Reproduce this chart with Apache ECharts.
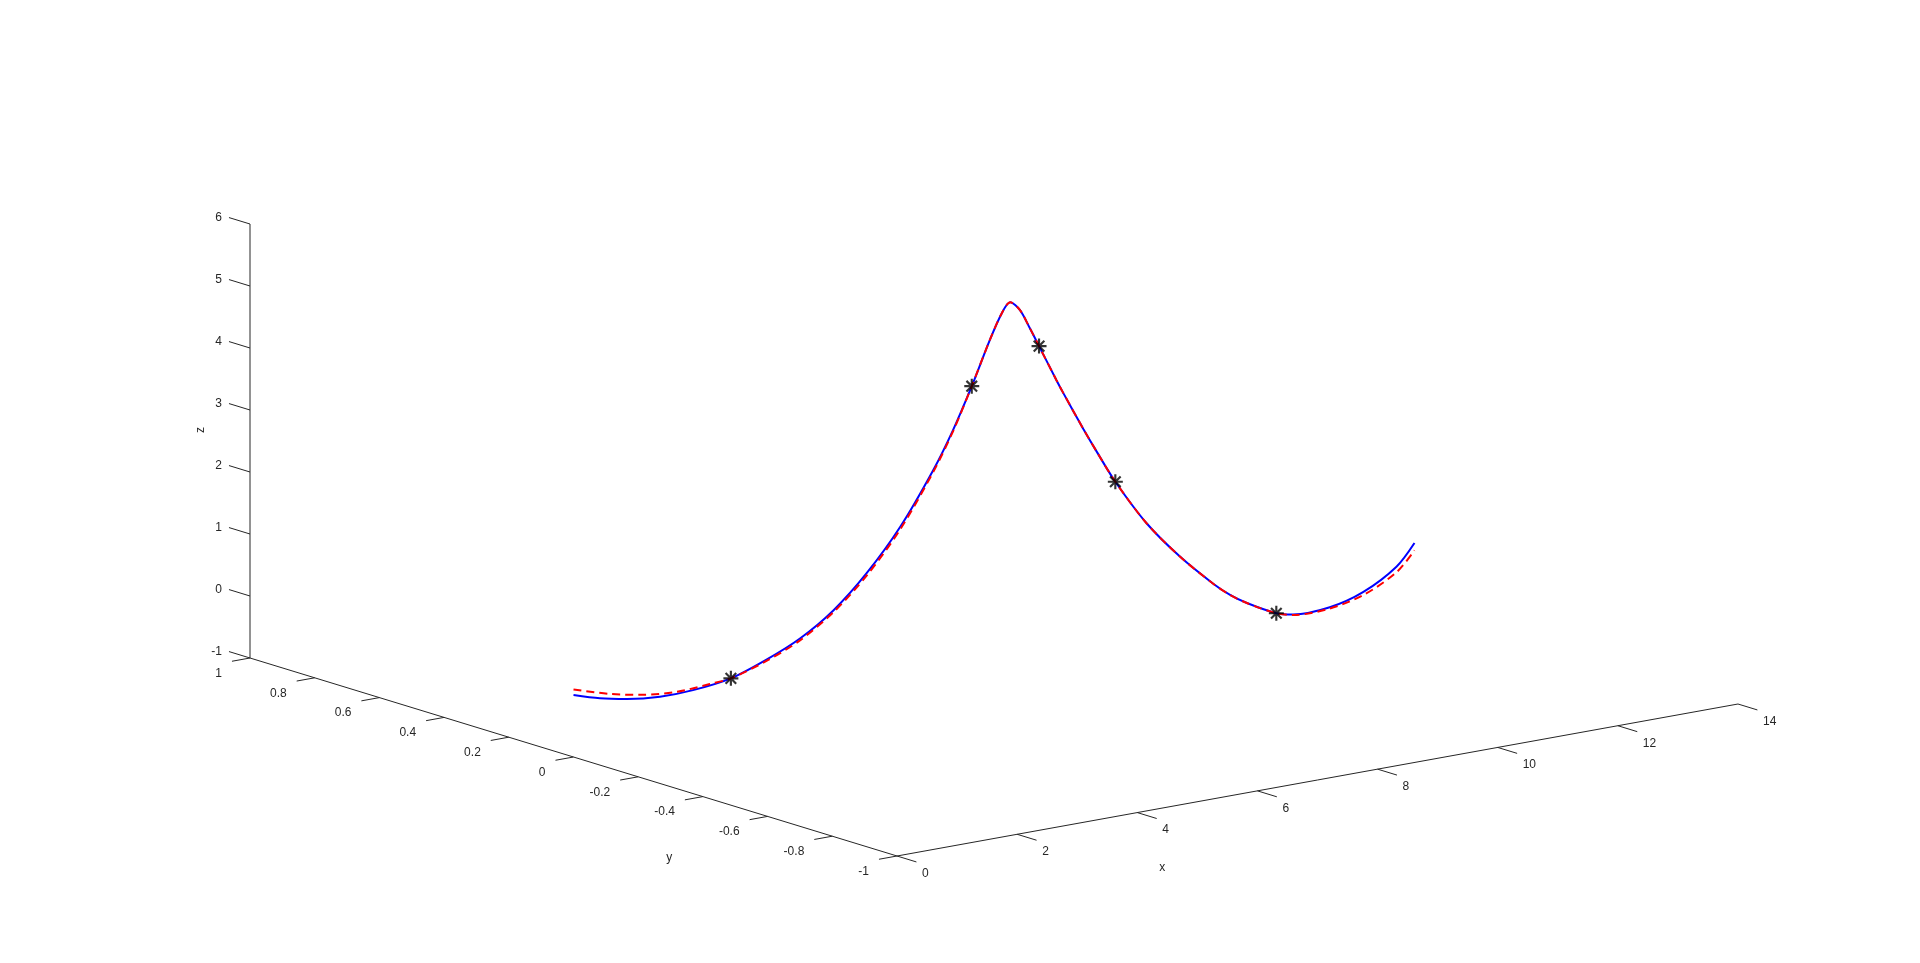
<!DOCTYPE html>
<html>
<head>
<meta charset="utf-8">
<script src="https://cdn.jsdelivr.net/npm/echarts@6/dist/echarts.min.js"></script>
<style>
html,body{margin:0;padding:0;background:#fff;overflow:hidden;}
#chart{width:1920px;height:963px;}
</style>
</head>
<body>
<div id="chart"></div>
<script>
// ---------- data ----------
const xTicks = [0, 2, 4, 6, 8, 10, 12, 14];
const xTickLabels = ['0', '2', '4', '6', '8', '10', '12', '14'];
const yTicks = [-1, -0.8, -0.6, -0.4, -0.2, 0, 0.2, 0.4, 0.6, 0.8, 1];
const yTickLabels = ['-1', '-0.8', '-0.6', '-0.4', '-0.2', '0', '0.2', '0.4', '0.6', '0.8', '1'];
const zTicks = [-1, 0, 1, 2, 3, 4, 5, 6];
const zTickLabels = ['-1', '0', '1', '2', '3', '4', '5', '6'];

// true curve (blue solid)
const curveX = [0, 0.44, 0.89, 1.44, 1.99, 2.62, 3.22, 3.77, 4.33, 4.88, 5.44, 5.99, 6.32, 6.63, 6.93, 7.13, 7.27, 7.43, 7.6, 7.75, 8.04, 8.15, 8.49, 8.71, 9.02, 9.54, 10.10, 10.65, 10.93, 11.21, 11.70, 11.98, 12.59, 13.15, 13.70, 14.0];
const curveY = [0, 0, 0, 0, 0, 0, 0, 0, 0, 0, 0, 0, 0, 0, 0, 0, 0, 0, 0, 0, 0, 0, 0, 0, 0, 0, 0, 0, 0, 0, 0, 0, 0, 0, 0, 0];
const curveZ = [0, -0.13, -0.22, -0.28, -0.27, -0.19, 0.01, 0.25, 0.61, 1.11, 1.76, 2.58, 3.17, 3.82, 4.51, 4.91, 5.06, 4.91, 4.58, 4.27, 3.67, 3.45, 2.80, 2.40, 1.86, 1.10, 0.46, -0.07, -0.30, -0.48, -0.73, -0.80, -0.79, -0.64, -0.33, 0.0];

// interpolated curve (red dashed)
const fitX = [0, 0.61, 1.16, 1.72, 2.27, 2.62, 3.22, 3.77, 4.33, 4.88, 5.44, 5.99, 6.32, 6.63, 6.93, 7.13, 7.27, 7.43, 7.6, 7.75, 8.04, 8.15, 8.49, 8.71, 9.02, 9.54, 10.10, 10.65, 10.93, 11.21, 11.70, 12.0, 12.59, 13.15, 13.70, 14.0];
const fitY = [0, 0, 0, 0, 0, 0, 0, 0, 0, 0, 0, 0, 0, 0, 0, 0, 0, 0, 0, 0, 0, 0, 0, 0, 0, 0, 0, 0, 0, 0, 0, 0, 0, 0, 0, 0];
const fitZ = [0.09, -0.09, -0.20, -0.25, -0.22, -0.19, -0.01, 0.22, 0.58, 1.07, 1.72, 2.55, 3.15, 3.82, 4.51, 4.91, 5.06, 4.91, 4.58, 4.27, 3.67, 3.45, 2.80, 2.40, 1.86, 1.10, 0.46, -0.07, -0.30, -0.48, -0.73, -0.81, -0.81, -0.69, -0.42, -0.12];

// sample points (black asterisks)
const knotX = [2.62, 6.63, 7.75, 9.02, 11.70];
const knotY = [0, 0, 0, 0, 0];
const knotZ = [-0.19, 3.82, 4.27, 1.86, -0.73];

// ---------- view (projection of the 3-D box onto the page) ----------
const ORIGIN = [897, 856];          // screen position of (x=0, y=-1, z=-1)
const EX = [60.07, -10.857];        // per unit of x
const EY = [-323.5, -99];           // per unit of y
const EZ = [0, -62];                // per unit of z
function proj(x, y, z) {
  return [
    ORIGIN[0] + EX[0] * x + EY[0] * (y + 1) + EZ[0] * (z + 1),
    ORIGIN[1] + EX[1] * x + EY[1] * (y + 1) + EZ[1] * (z + 1)
  ];
}

const AX = '#262626';
const FONT = '12px "Liberation Sans", Arial, Helvetica, sans-serif';

function asteriskPath() {
  const w = 1.0;
  const spokes = [[0, 7], [7, 0], [4.95, 4.95], [4.95, -4.95]];
  let d = '';
  spokes.forEach(([ax, ay]) => {
    const len = Math.hypot(ax, ay);
    const nx = -ay / len * w, ny = ax / len * w;
    d += `M${-ax + nx},${-ay + ny}L${ax + nx},${ay + ny}L${ax - nx},${ay - ny}L${-ax - nx},${-ay - ny}Z`;
  });
  return 'path://' + d;
}

function textEl(x, y, text, align, vAlign, rotation) {
  return {
    type: 'text',
    x: x, y: y,
    rotation: rotation || 0,
    style: {
      text: text, fill: AX, font: FONT,
      align: align, verticalAlign: vAlign,
      textAlign: align, textVerticalAlign: vAlign
    }
  };
}

function tickSeries(values, labels, p0, p1, labOff, align) {
  return {
    type: 'custom',
    coordinateSystem: 'cartesian2d',
    silent: true,
    z: 1,
    data: values.map(v => [v]),
    renderItem: function (params, api) {
      const v = api.value(0);
      const a = api.coord(p0(v));
      const b = api.coord(p1(v));
      return {
        type: 'group',
        children: [
          { type: 'line', shape: { x1: a[0], y1: a[1], x2: b[0], y2: b[1] }, style: { stroke: AX, lineWidth: 1 } },
          textEl(a[0] + labOff[0], a[1] + labOff[1], labels[params.dataIndex], align, 'middle')
        ]
      };
    }
  };
}

function axisLine(p, q) {
  return {
    type: 'line', silent: true, symbol: 'none', z: 1,
    lineStyle: { color: AX, width: 1 },
    data: [proj(p[0], p[1], p[2]), proj(q[0], q[1], q[2])]
  };
}

const axisNames = {
  type: 'custom', coordinateSystem: 'cartesian2d', silent: true, z: 1,
  data: [[0]],
  renderItem: function (params, api) {
    const px = api.coord(proj(4, -1, -1));
    const py = api.coord(proj(0, -0.5, -1));
    const pz = api.coord(proj(0, 1, 2.5));
    return {
      type: 'group',
      children: [
        textEl(px[0] + 25, px[1] + 55, 'x', 'center', 'middle'),
        textEl(py[0] - 66, py[1] + 51, 'y', 'center', 'middle'),
        textEl(pz[0] - 49.3, pz[1] - 11, 'z', 'center', 'middle', Math.PI / 2)
      ]
    };
  }
};

const chart = echarts.init(document.getElementById('chart'), null, { renderer: 'canvas' });
chart.setOption({
  animation: false,
  backgroundColor: '#ffffff',
  grid: { left: 0, right: 0, top: 0, bottom: 0, containLabel: false },
  xAxis: { type: 'value', min: 0, max: 1920, show: false },
  yAxis: { type: 'value', min: 0, max: 963, inverse: true, show: false },
  series: [
    axisLine([0, -1, -1], [14, -1, -1]),
    axisLine([0, -1, -1], [0, 1, -1]),
    axisLine([0, 1, -1], [0, 1, 6]),
    tickSeries(xTicks, xTickLabels, v => proj(v, -1, -1), v => proj(v, -1.06, -1), [25, 17.5], 'left'),
    tickSeries(yTicks, yTickLabels, v => proj(0, v, -1), v => proj(-0.3, v, -1), [-28, 15.5], 'right'),
    tickSeries(zTicks, zTickLabels, v => proj(0, 1, v), v => proj(0, 1.065, v), [-28, -6], 'right'),
    axisNames,
    {
      type: 'line', silent: true, symbol: 'none', z: 2,
      smooth: 0.3,
      lineStyle: { color: '#0000ff', width: 2 },
      data: curveX.map((x, i) => proj(x, curveY[i], curveZ[i]))
    },
    {
      type: 'line', silent: true, symbol: 'none', z: 3,
      smooth: 0.3,
      lineStyle: { color: '#ff0000', width: 2, type: [8, 5] },
      data: fitX.map((x, i) => proj(x, fitY[i], fitZ[i]))
    },
    {
      type: 'scatter', silent: true, z: 4,
      symbol: asteriskPath(), symbolSize: 15,
      itemStyle: { color: '#000000' },
      data: knotX.map((x, i) => proj(x, knotY[i], knotZ[i]))
    }
  ]
});
</script>
</body>
</html>
